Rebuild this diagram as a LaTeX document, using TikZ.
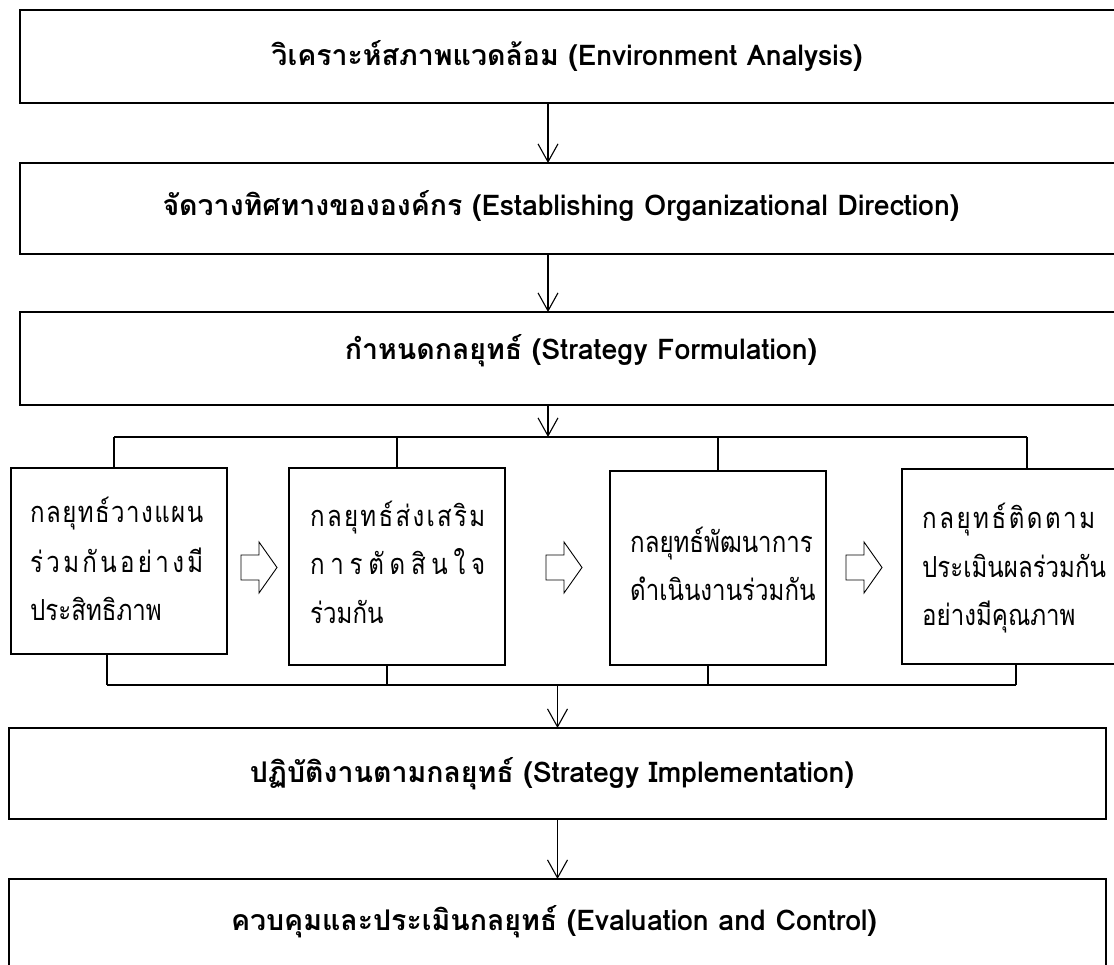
\documentclass[tikz,border=0pt]{standalone}
\usepackage{fontspec}
\setmainfont[Script=Thai]{Loma}
\newfontfamily\thaicond[Script=Thai,FakeStretch=0.83]{Loma}
\usetikzlibrary{arrows.meta,calc}
\begin{document}
\begin{tikzpicture}[x=1pt,y=-1pt,
  box/.style={draw,line width=1.5pt,inner sep=0pt,outer sep=0pt},
  conn/.style={line width=1.2pt},
  arr/.style={line width=1.1pt,-{Straight Barb[length=18pt,width=20pt,line width=1.1pt]}},
  bus/.style={line width=2pt},
  title/.style={anchor=base,inner sep=0pt,font=\bfseries\fontsize{28.5}{32}\selectfont},
  body/.style={anchor=base west,inner sep=0pt,font=\thaicond\fontsize{29}{34}\selectfont},
  hollow/.style={draw,line width=0.9pt,fill=white}
]
\useasboundingbox (0,0) rectangle (1114,965);

% main boxes
\node[box,minimum width=1105pt,minimum height=93pt] (b1) at (572.5,56.5) {};
\node[box,minimum width=1105pt,minimum height=91pt] (b2) at (572.5,208.5) {};
\node[box,minimum width=1105pt,minimum height=93pt] (b3) at (572.5,358.5) {};
\node[box,minimum width=216pt,minimum height=186pt] (bA) at (119,561) {};
\node[box,minimum width=216pt,minimum height=197pt] (bB) at (397,566.5) {};
\node[box,minimum width=216pt,minimum height=194pt] (bC) at (718,568) {};
\node[box,minimum width=223pt,minimum height=195pt] (bD) at (1013.5,566.5) {};
\node[box,line width=2pt,minimum width=1097pt,minimum height=91pt] (bE) at (557.5,773.5) {};
\node[box,minimum width=1097pt,minimum height=101pt] (bF) at (557.5,929.5) {};

% titles
\node[title] (t1) at (567,66) {วิเคราะห์สภาพแวดล้อม (Environment Analysis)};
\node[title] (t2) at (561,216) {จัดวางทิศทางขององค์กร (Establishing Organizational Direction)};
\node[title] (t3) at (581,360) {กำหนดกลยุทธ์ (Strategy Formulation)};
\node[title] (tE) at (552,782) {ปฏิบัติงานตามกลยุทธ์ (Strategy Implementation)};
\node[title] (tF) at (554,930) {ควบคุมและประเมินกลยุทธ์ (Evaluation and Control)};

% middle texts
\node[body] (a1) at (30,522) {\makebox[173pt][s]{ก\hfill ล\hfill ยุ\hfill ท\hfill ธ์\hfill ว\hfill า\hfill ง\hfill แ\hfill ผ\hfill น}};
\node[body] (a2) at (30,572) {\makebox[173pt][s]{ร่\hfill ว\hfill ม\hfill กั\hfill น\hfill อ\hfill ย่\hfill า\hfill ง\hfill มี}};
\node[body] (a3) at (30,620) {ประสิทธิภาพ};
\node[body] (bb1) at (310,526) {\makebox[175pt][s]{ก\hfill ล\hfill ยุ\hfill ท\hfill ธ์\hfill ส่\hfill ง\hfill เ\hfill ส\hfill ริ\hfill ม}};
\node[body] (bb2) at (310,574) {\makebox[175pt][s]{ก\hfill า\hfill ร\hfill ตั\hfill ด\hfill สิ\hfill น\hfill ใ\hfill จ}};
\node[body] (bb3) at (310,623) {ร่วมกัน};
\node[body] (c1) at (630,552) {กลยุทธ์พัฒนาการ};
\node[body] (c2) at (630,600) {ดำเนินงานร่วมกัน};
\node[body] (d1) at (922,528) {\makebox[173pt][s]{ก\hfill ล\hfill ยุ\hfill ท\hfill ธ์\hfill ติ\hfill ด\hfill ต\hfill า\hfill ม}};
\node[body] (d2) at (922,577) {ประเมินผลร่วมกัน};
\node[body] (d3) at (922,625) {อย่างมีคุณภาพ};

% vertical arrows
\coordinate (cx) at (548,0);
\draw[arr] (b1.south -| cx) -- (b2.north -| cx);
\draw[arr] (b2.south -| cx) -- (b3.north -| cx);

% branch bus
\coordinate (brL) at (114,437);
\coordinate (brR) at (1027,437);
\draw[arr] (b3.south -| cx) -- (brL -| cx);
\draw[bus] (brL) -- (brR);
\draw[conn] (brL) -- (brL |- bA.north);
\draw[conn] (bB.north |- brL) -- (bB.north);
\draw[conn] (bC.north |- brL) -- (bC.north);
\draw[conn] (brR) -- (brR |- bD.north);

% merge bus
\coordinate (mL) at (107,685);
\coordinate (mR) at (1016,685);
\draw[bus] (mL) -- (mR);
\draw[conn] (mL |- bA.south) -- (mL);
\draw[conn] ([xshift=-10pt]bB.south) -- ([xshift=-10pt]bB.south |- mL);
\draw[conn] ([xshift=-10pt]bC.south) -- ([xshift=-10pt]bC.south |- mL);
\draw[conn] (mR |- bD.south) -- (mR);
\draw[arr] (bE.north |- mL) -- (bE.north);
\draw[arr] (bE.south) -- (bF.north);

% hollow arrows
\coordinate (hAB) at (241,567.5);
\coordinate (hBC) at (546,567.5);
\coordinate (hCD) at (846,567.5);
\foreach \h in {hAB,hBC,hCD}{
  \draw[hollow] ($(\h)+(0,-12.5)$) -- ($(\h)+(18,-12.5)$) -- ($(\h)+(18,-25.5)$)
    -- ($(\h)+(36,0)$) -- ($(\h)+(18,25.5)$) -- ($(\h)+(18,12.5)$)
    -- ($(\h)+(0,12.5)$) -- cycle;
}
\end{tikzpicture}
\end{document}
